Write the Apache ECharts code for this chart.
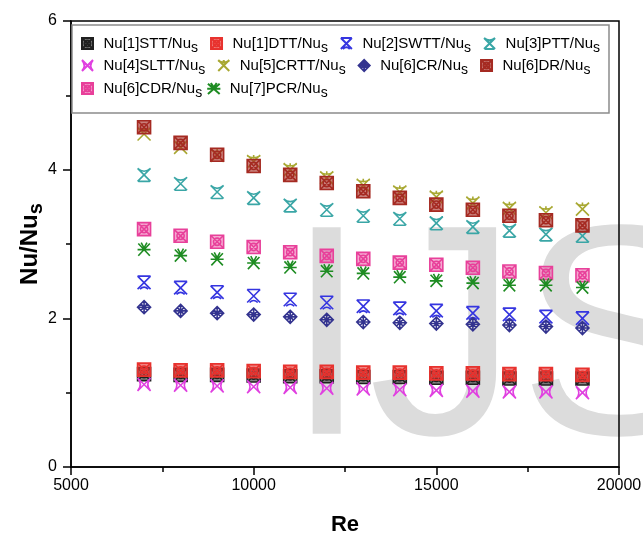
<!DOCTYPE html>
<html>
<head>
<meta charset="utf-8">
<script src="https://cdn.jsdelivr.net/npm/echarts@6/dist/echarts.min.js"></script>
<style>
  html, body { margin: 0; padding: 0; background: #fff; }
  #chart { width: 643px; height: 533px; }
</style>
</head>
<body>
<div id="chart"></div>
<script>
// Re values shared by all series
const re = [7000, 8000, 9000, 10000, 11000, 12000, 13000, 14000, 15000, 16000, 17000, 18000, 19000];

const stt  = [1.25, 1.24, 1.24, 1.23, 1.22, 1.22, 1.21, 1.21, 1.20, 1.20, 1.19, 1.19, 1.19];
const dtt  = [1.31, 1.30, 1.30, 1.29, 1.28, 1.28, 1.27, 1.27, 1.26, 1.26, 1.25, 1.25, 1.24];
const swtt = [2.48, 2.41, 2.35, 2.30, 2.25, 2.21, 2.16, 2.13, 2.10, 2.07, 2.05, 2.02, 2.00];
const ptt  = [3.93, 3.81, 3.70, 3.62, 3.52, 3.46, 3.38, 3.34, 3.28, 3.23, 3.18, 3.13, 3.11];
const sltt = [1.11, 1.10, 1.09, 1.08, 1.07, 1.06, 1.05, 1.04, 1.03, 1.02, 1.01, 1.01, 1.00];
const crtt = [4.48, 4.30, 4.19, 4.11, 4.00, 3.89, 3.79, 3.70, 3.63, 3.55, 3.48, 3.42, 3.47];
const cr   = [2.15, 2.10, 2.07, 2.05, 2.02, 1.98, 1.95, 1.94, 1.93, 1.92, 1.91, 1.89, 1.87];
const dr   = [4.57, 4.36, 4.20, 4.05, 3.93, 3.82, 3.71, 3.62, 3.53, 3.46, 3.38, 3.32, 3.25];
const cdr  = [3.20, 3.11, 3.03, 2.96, 2.89, 2.84, 2.80, 2.75, 2.72, 2.68, 2.63, 2.61, 2.58];
const pcr  = [2.93, 2.85, 2.80, 2.75, 2.69, 2.64, 2.61, 2.56, 2.51, 2.48, 2.45, 2.45, 2.42];

const xTicks = [5000, 20000, 5000]; // min, max, interval
const yTicks = [0, 6, 2];

// marker outlines (Origin-like hatched symbols)
const SYM = {
  box: 'path://M1,1H19V19H1Z M1,1L19,19 M19,1L1,19 M10,5A5,5 0 1,1 9.99,5Z',
  hour: 'path://M2,2L18,18 M18,2L2,18 M2,2H18 M5,18Q10,13 15,18',
  vee: 'path://M2,2L18,18 M18,2L2,18 M2,2Q10,9 18,2 M3,18H17',
  bow: 'path://M2,2L18,18 M18,2L2,18 M2,2Q9,10 2,18 M18,2Q11,10 18,18',
  hat: 'path://M2,2L18,18 M18,2L2,18 M2,3Q10,8 18,3 M10,2V6',
  lattice: 'path://M10,1L19,10L10,19L1,10Z M5.5,5.5L14.5,14.5 M14.5,5.5L5.5,14.5 M1,10H19 M10,1V19',
  star: 'path://M2,3L18,17 M18,3L2,17 M1,10H19 M6,2L10,8L14,2'
};

const seriesDefs = [
  { name: 'Nu[1]STT/Nu', data: stt, color: '#202020', fill: 'rgba(32,32,32,0.55)', symbol: SYM.box },
  { name: 'Nu[1]DTT/Nu', data: dtt, color: '#e8322e', fill: 'rgba(232,50,46,0.6)', symbol: SYM.box },
  { name: 'Nu[2]SWTT/Nu', data: swtt, color: '#3535e0', symbol: SYM.hour },
  { name: 'Nu[3]PTT/Nu', data: ptt, color: '#3aa6a6', symbol: SYM.vee },
  { name: 'Nu[4]SLTT/Nu', data: sltt, color: '#e040e0', symbol: SYM.bow },
  { name: 'Nu[5]CRTT/Nu', data: crtt, color: '#a8a832', symbol: SYM.hat },
  { name: 'Nu[6]CR/Nu', data: cr, color: '#33338f', symbol: SYM.lattice },
  { name: 'Nu[6]DR/Nu', data: dr, color: '#a52a22', fill: 'rgba(165,42,34,0.6)', symbol: SYM.box },
  { name: 'Nu[6]CDR/Nu', data: cdr, color: '#e8409a', fill: 'rgba(232,64,154,0.45)', symbol: SYM.box },
  { name: 'Nu[7]PCR/Nu', data: pcr, color: '#1e8c22', symbol: SYM.star }
];

const rows = [
  seriesDefs.slice(0, 4).map(s => s.name),
  seriesDefs.slice(4, 8).map(s => s.name),
  seriesDefs.slice(8).map(s => s.name)
];
const rowTop = [31, 53, 76];
const rowGap = [12, 12, 4];

const subRich = {
  n: { fontSize: 15, fontFamily: 'Liberation Sans', color: '#000' },
  s: { fontSize: 14, fontFamily: 'Liberation Sans', color: '#000', padding: [9, 0, 0, 0] }
};

const chart = echarts.init(document.getElementById('chart'));
chart.setOption({
  animation: false,
  backgroundColor: '#fff',
  grid: {
    left: 71, right: 24, top: 21, bottom: 66,
    outerBoundsMode: 'none',
    show: true, borderColor: '#000', borderWidth: 1.5, backgroundColor: 'transparent'
  },
  graphic: [
    {
      type: 'text', z: -10, silent: true,
      left: 285, top: 201,
      style: { text: 'IJS', font: '300px "Liberation Sans"', fill: '#dcdcdc' }
    },
    {
      type: 'rect', z: 1, silent: true,
      shape: { x: 72, y: 25, width: 537, height: 88 },
      style: { fill: 'none', stroke: '#8c8c8c', lineWidth: 1.5 }
    }
  ],
  legend: rows.map((r, i) => ({
    data: r,
    left: 76,
    top: rowTop[i],
    orient: 'horizontal',
    itemWidth: 22,
    itemHeight: 11,
    itemGap: rowGap[i],
    selectedMode: false,
    formatter: name => '{n|' + name + '}{s|s}',
    textStyle: { rich: subRich }
  })),
  xAxis: {
    type: 'value',
    min: xTicks[0], max: xTicks[1], interval: xTicks[2],
    name: 'Re', nameLocation: 'middle', nameGap: 47, nameMoveOverlap: false,
    nameTextStyle: { fontSize: 22, fontWeight: 'bold', fontFamily: 'Liberation Sans', color: '#000' },
    axisLine: { lineStyle: { color: '#000', width: 1.5 } },
    axisTick: { length: 8, lineStyle: { color: '#000', width: 1.5 } },
    minorTick: { show: true, splitNumber: 2, length: 5, lineStyle: { color: '#000', width: 1.5 } },
    axisLabel: { fontSize: 16, fontFamily: 'Liberation Sans', color: '#000', margin: 11, formatter: v => String(v) },
    splitLine: { show: false }
  },
  yAxis: {
    type: 'value',
    min: yTicks[0], max: yTicks[1], interval: yTicks[2],
    name: '{n|Nu/Nu}{s|s}', nameLocation: 'middle', nameGap: 25, nameRotate: 90, nameMoveOverlap: false,
    nameTextStyle: {
      rich: {
        n: { fontSize: 24, fontWeight: 'bold', fontFamily: 'Liberation Sans', color: '#000' },
        s: { fontSize: 20, fontWeight: 'bold', fontFamily: 'Liberation Sans', color: '#000', padding: [12, 0, 0, 0] }
      }
    },
    axisLine: { lineStyle: { color: '#000', width: 1.5 } },
    axisTick: { length: 8, lineStyle: { color: '#000', width: 1.5 } },
    minorTick: { show: true, splitNumber: 2, length: 5, lineStyle: { color: '#000', width: 1.5 } },
    axisLabel: { fontSize: 16, fontFamily: 'Liberation Sans', color: '#000', margin: 14 },
    splitLine: { show: false }
  },
  series: seriesDefs.map(s => ({
    name: s.name,
    type: 'scatter',
    symbol: s.symbol,
    symbolSize: 13,
    data: re.map((x, i) => [x, s.data[i]]),
    itemStyle: { color: s.fill || 'rgba(0,0,0,0)', borderColor: s.color, borderWidth: 1.6, opacity: 1 }
  }))
});
</script>
</body>
</html>
